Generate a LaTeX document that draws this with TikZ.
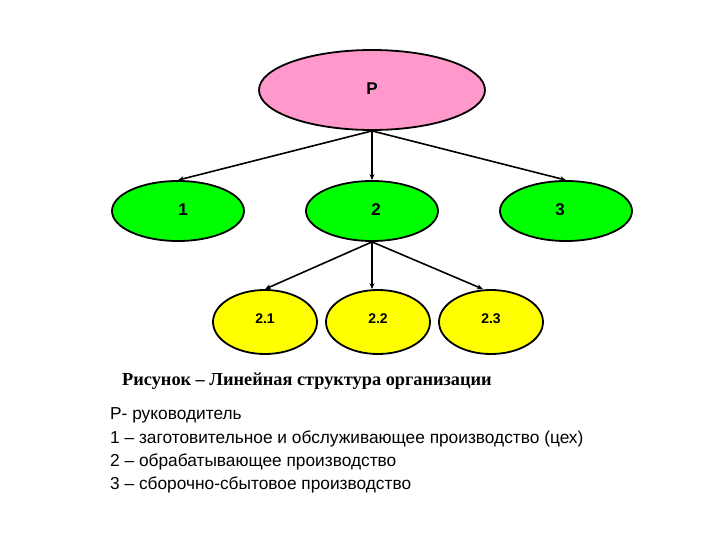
\documentclass[tikz,border=0pt]{standalone}
\usepackage{fontspec}
\setmainfont{Liberation Serif}
\setsansfont{Liberation Sans}
\usetikzlibrary{shapes.geometric,arrows.meta}
\definecolor{pinkfill}{HTML}{FF99CC}
\definecolor{greenfill}{HTML}{00FF00}
\definecolor{yellowfill}{HTML}{FFFF00}
\tikzset{
  oval/.style={ellipse,draw=black,line width=1.8pt,inner sep=0pt},
  top/.style={oval,fill=pinkfill,minimum width=226pt,minimum height=80pt,font=\sffamily\bfseries\fontsize{17}{19}\selectfont},
  mid/.style={oval,fill=greenfill,minimum width=132pt,minimum height=60pt,font=\sffamily\bfseries\fontsize{17}{19}\selectfont},
  low/.style={oval,fill=yellowfill,minimum width=104pt,minimum height=64pt,font=\sffamily\bfseries\fontsize{14}{16}\selectfont},
  link/.style={line width=1.6pt,-{Stealth[length=6pt,width=5pt]}},
  legend/.style={anchor=west,inner sep=0pt,font=\sffamily\fontsize{17.3}{20}\selectfont}
}
\begin{document}
\begin{tikzpicture}[x=1pt,y=-1pt]
\useasboundingbox (0,0) rectangle (720,540);
\node[top] (p) at (372,90) {\raisebox{3pt}{Р}};
\node[mid] (n1) at (178,211) {\hspace*{10pt}\raisebox{3pt}{1}};
\node[mid] (n2) at (372,211) {\hspace*{8pt}\raisebox{3pt}{2}};
\node[mid] (n3) at (566,211) {\raisebox{3pt}{3}\hspace*{12pt}};
\node[low] (n21) at (265,322) {\raisebox{6pt}{2.1}};
\node[low] (n22) at (378,322) {\raisebox{6pt}{2.2}};
\node[low] (n23) at (491,322) {\raisebox{6pt}{2.3}};
\draw[link] (p.south) -- (n1.north);
\draw[link] (p.south) -- (n2.north);
\draw[link] (p.south) -- (n3.north);
\draw[link] (n2.south) -- (n21.north);
\draw[link] (n2.south) -- ([xshift=-6pt]n22.north);
\draw[link] (n2.south) -- ([xshift=-8pt]n23.north);
\node[anchor=west,inner sep=0pt,font=\bfseries\fontsize{18.3}{21}\selectfont] (cap) at (122,381) {Рисунок – Линейная структура организации};
\node[legend] (l0) at (110,415) {Р- руководитель};
\node[legend] (l1) at (110,439) {1 – заготовительное и обслуживающее производство (цех)};
\node[legend] (l2) at (110,462) {2 – обрабатывающее производство};
\node[legend] (l3) at (110,485) {3 – сборочно-сбытовое производство};
\end{tikzpicture}
\end{document}
